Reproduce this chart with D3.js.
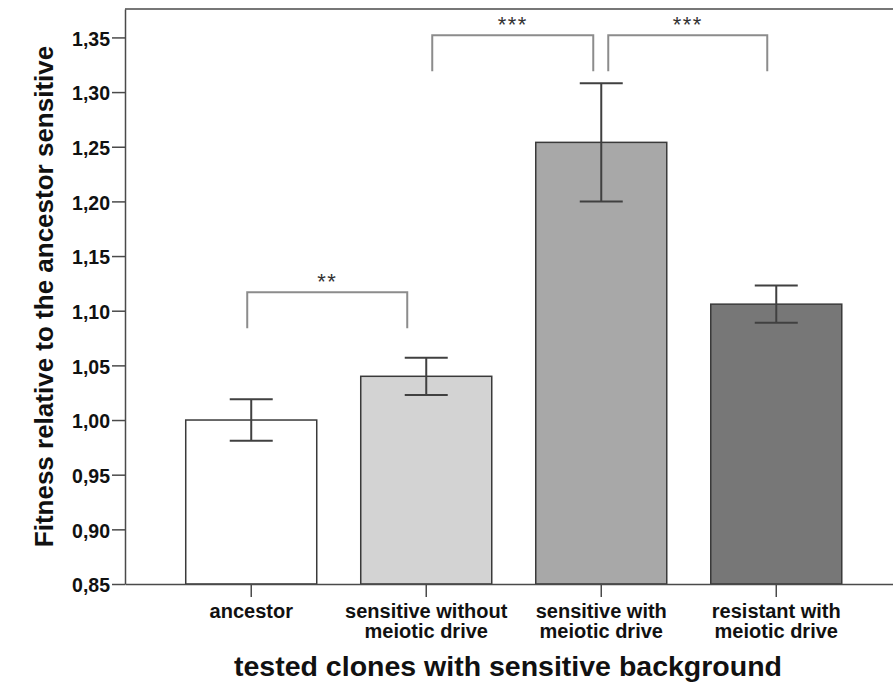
<!DOCTYPE html>
<html>
<head>
<meta charset="utf-8">
<script src="https://cdn.jsdelivr.net/npm/d3@7"></script>
<style>
  body { margin: 0; background: #fff; }
  text { font-family: Arial, "Liberation Sans", sans-serif; font-weight: bold; fill: #111; }
</style>
</head>
<body>
<script>
// values
const categories = [["ancestor"], ["sensitive without", "meiotic drive"], ["sensitive with", "meiotic drive"], ["resistant with", "meiotic drive"]];
const means = [1.000, 1.040, 1.254, 1.106];
const ciLow = [0.981, 1.023, 1.200, 1.089];
const ciHigh = [1.019, 1.057, 1.308, 1.123];
const yTicks = [0.85, 0.90, 0.95, 1.00, 1.05, 1.10, 1.15, 1.20, 1.25, 1.30, 1.35];

// significance brackets
const sigFrom = [0, 1, 2];
const sigTo = [1, 2, 3];
const sigLevel = [1.117, 1.352, 1.352];
const sigLabels = ["**", "***", "***"];

const barColors = ["#ffffff", "#d3d3d3", "#a8a8a8", "#777777"];

const width = 893;
const height = 686;
const margin = {left: 125, top: 9, bottom: 584, right: 902.5};

let svg = d3.select("body").append("svg")
    .attr('width', width)
    .attr('height', height);

const fmt = d3.formatLocale({decimal: ",", thousands: ".", grouping: [3], currency: ["", ""]}).format(".2f");

const x = d3.scaleBand()
    .domain(d3.range(categories.length))
    .range([margin.left, margin.right])
    .paddingInner(0.2514)
    .paddingOuter(0.347);

const y = d3.scaleLinear()
    .domain([0.85, 1.376])
    .range([margin.bottom, margin.top]);

const cx = i => x(i) + x.bandwidth() / 2;

// frame top line
svg.append('line')
    .attr('x1', margin.left).attr('x2', width)
    .attr('y1', margin.top).attr('y2', margin.top)
    .attr('stroke', '#4a4a4a').attr('stroke-width', 1.5);

// bars
svg.selectAll('rect.bar')
    .data(means)
    .join('rect')
    .attr('class', 'bar')
    .attr('x', (d, i) => x(i))
    .attr('y', d => y(d))
    .attr('width', x.bandwidth())
    .attr('height', d => y(0.85) - y(d))
    .attr('fill', (d, i) => barColors[i])
    .attr('stroke', '#3a3a3a')
    .attr('stroke-width', 1.5);

// error bars
const err = svg.append('g')
    .attr('stroke', '#404040')
    .attr('stroke-width', 2);
means.forEach((m, i) => {
    err.append('line')
        .attr('x1', cx(i)).attr('x2', cx(i))
        .attr('y1', y(ciLow[i])).attr('y2', y(ciHigh[i]));
    [ciLow[i], ciHigh[i]].forEach(v => {
        err.append('line')
            .attr('x1', cx(i) - 21.5).attr('x2', cx(i) + 21.5)
            .attr('y1', y(v)).attr('y2', y(v));
    });
});

// y axis
const yAxis = svg.append('g')
    .attr('transform', `translate(${margin.left},0)`)
    .call(d3.axisLeft(y).tickValues(yTicks).tickFormat(fmt).tickSize(13).tickSizeOuter(0).tickPadding(2));
yAxis.select('.domain').attr('stroke', '#4a4a4a').attr('stroke-width', 1.5);
yAxis.selectAll('.tick line').attr('stroke', '#4a4a4a').attr('stroke-width', 1.5);
yAxis.selectAll('.tick text')
    .attr('font-size', 19.5)
    .attr('dy', '0.4em');

// x axis
const xAxis = svg.append('g')
    .attr('transform', `translate(0,${margin.bottom})`)
    .call(d3.axisBottom(x).tickSize(13).tickSizeOuter(0).tickFormat(''));
xAxis.select('.domain').attr('stroke', '#4a4a4a').attr('stroke-width', 1.5);
xAxis.selectAll('.tick line').attr('stroke', '#4a4a4a').attr('stroke-width', 1.5);

// x category labels
svg.selectAll('text.cat')
    .data(categories)
    .join('text')
    .attr('class', 'cat')
    .attr('text-anchor', 'middle')
    .attr('font-size', 20)
    .attr('transform', (d, i) => `translate(${cx(i)},${margin.bottom + 34})`)
    .selectAll('tspan')
    .data(d => d)
    .join('tspan')
    .attr('x', 0)
    .attr('y', (d, j) => j * 20)
    .text(d => d);

// axis titles
svg.append('text')
    .attr('text-anchor', 'middle')
    .attr('font-size', 28.5)
    .attr('x', 508)
    .attr('y', 676)
    .text('tested clones with sensitive background');

svg.append('text')
    .attr('text-anchor', 'middle')
    .attr('font-size', 26)
    .attr('transform', `translate(53,${(margin.top + margin.bottom) / 2}) rotate(-90)`)
    .text('Fitness relative to the ancestor sensitive');

// significance brackets
const insets = [[-4, -19], [6, -8], [7, -9]];
sigLabels.forEach((lab, k) => {
    const x1 = cx(sigFrom[k]) + insets[k][0];
    const x2 = cx(sigTo[k]) + insets[k][1];
    const yb = y(sigLevel[k]);
    svg.append('path')
        .attr('d', `M${x1},${yb + 36}V${yb}H${x2}V${yb + 36}`)
        .attr('fill', 'none')
        .attr('stroke', '#8c8c8c')
        .attr('stroke-width', 2);
    svg.append('text')
        .attr('text-anchor', 'middle')
        .attr('font-size', 22)
        .style('font-weight', 'normal')
        .style('fill', '#333')
        .attr('letter-spacing', 1.5)
        .attr('x', (x1 + x2) / 2)
        .attr('y', yb - 3)
        .text(lab);
});
</script>
</body>
</html>
